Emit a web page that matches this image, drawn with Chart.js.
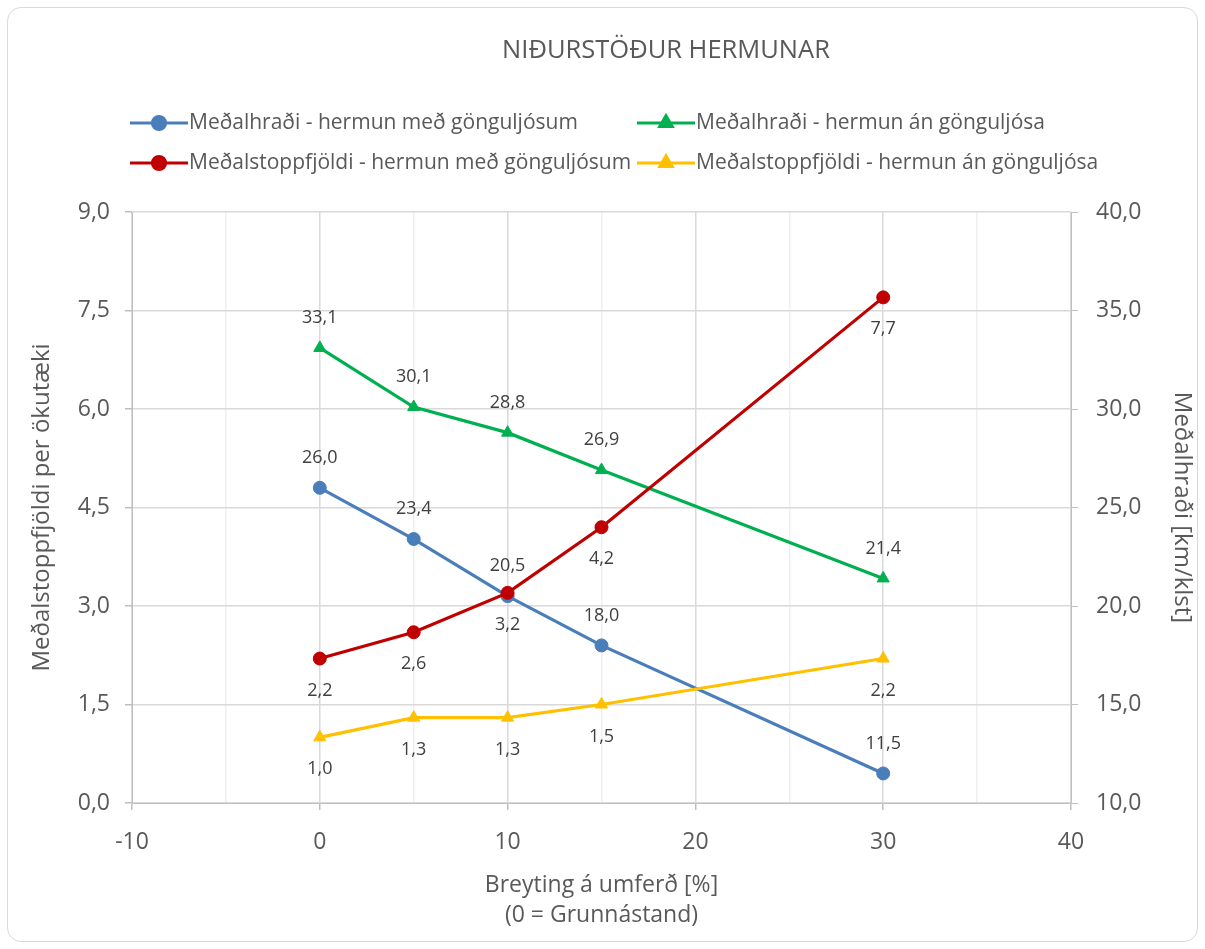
<!DOCTYPE html>
<html>
<head>
<meta charset="utf-8">
<script src="https://cdn.jsdelivr.net/npm/chart.js@4.4.0/dist/chart.umd.min.js"></script>
<style>
    body { margin: 0; background: #fff; }
    #wrap { position: relative; width: 1205px; height: 949px; }
    #frame { position: absolute; left: 7px; top: 7px; width: 1189px; height: 933px; border: 1px solid #d9d9d9; border-radius: 14px; }
    canvas { position: absolute; left: 0; top: 0; }
</style>
</head>
<body>
<div id="wrap">
    <div id="frame"></div>
    <canvas id="chart" width="1205" height="949"></canvas>
</div>
<script>
var xValues = [0, 5, 10, 15, 30];
var speedWithLights = [26.0, 23.4, 20.5, 18.0, 11.5];
var speedWithoutLights = [33.1, 30.1, 28.8, 26.9, 21.4];
var stopsWithLights = [2.2, 2.6, 3.2, 4.2, 7.7];
var stopsWithoutLights = [1.0, 1.3, 1.3, 1.5, 2.2];
var seriesNames = [
    'Meðalhraði - hermun með gönguljósum',
    'Meðalhraði - hermun án gönguljósa',
    'Meðalstoppfjöldi - hermun með gönguljósum',
    'Meðalstoppfjöldi - hermun án gönguljósa'
];
var chartTitle = 'NIĐURSTÖÐUR HERMUNAR';
var xTitle = ['Breyting á umferð [%]', '(0 = Grunnástand)'];
var leftTitle = 'Meðalstoppfjöldi per ökutæki';
var rightTitle = 'Meðalhraði [km/klst]';

var FONT = "'Open Sans', sans-serif";
var TEXT = '#595959';

function toPoints(values) {
    return xValues.map(function(x, i) { return { x: x, y: values[i] }; });
}

function formatNum(v) {
    return v.toFixed(1).replace('.', ',');
}

function makeSeries(label, values, color, style, axis, labelPos, order) {
    return {
        label: label,
        data: toPoints(values),
        borderColor: color,
        backgroundColor: color,
        borderWidth: 3.2,
        pointStyle: style,
        pointRadius: style === 'triangle' ? 7 : 6.5,
        pointBorderWidth: 1,
        yAxisID: axis,
        labelPos: labelPos,
        order: order,
        tension: 0
    };
}

// title, legend and point values drawn by hand
var decorPlugin = {
    id: 'decor',
    afterDatasetsDraw: function(chart) {
        var ctx = chart.ctx;
        ctx.save();
        ctx.font = '18px ' + FONT;
        ctx.fillStyle = '#404040';
        ctx.textAlign = 'center';
        ctx.textBaseline = 'middle';
        chart.data.datasets.forEach(function(ds, i) {
            var meta = chart.getDatasetMeta(i);
            meta.data.forEach(function(pt, j) {
                var dy = ds.labelPos === 'above' ? -30 : 32;
                ctx.fillText(formatNum(ds.data[j].y), pt.x, pt.y + dy);
            });
        });
        ctx.restore();
    },
    afterDraw: function(chart) {
        var ctx = chart.ctx;
        ctx.save();
        ctx.fillStyle = TEXT;
        ctx.textBaseline = 'middle';
        ctx.textAlign = 'center';
        ctx.font = '25.5px ' + FONT;
        ctx.fillText(chartTitle, 666, 51);

        var cols = [130, 637];
        var rows = [123, 163];
        ctx.font = '21px ' + FONT;
        ctx.textAlign = 'left';
        chart.data.datasets.forEach(function(ds, i) {
            var x = cols[i % 2];
            var y = rows[Math.floor(i / 2)];
            ctx.strokeStyle = ds.borderColor;
            ctx.lineWidth = 3.2;
            ctx.beginPath();
            ctx.moveTo(x, y);
            ctx.lineTo(x + 58, y);
            ctx.stroke();
            Chart.helpers.drawPoint(ctx, {
                pointStyle: ds.pointStyle,
                radius: ds.pointRadius,
                borderWidth: 1,
                rotation: 0
            }, x + 29, y);
            ctx.fillStyle = ds.backgroundColor;
            ctx.fill();
            ctx.fillStyle = TEXT;
            ctx.fillText(ds.label, x + 59, y);
        });
        ctx.restore();
    }
};

new Chart(document.getElementById('chart'), {
    type: 'line',
    data: {
        datasets: [
            makeSeries(seriesNames[0], speedWithLights, '#4a7ebb', 'circle', 'yRight', 'above', 4),
            makeSeries(seriesNames[1], speedWithoutLights, '#00b050', 'triangle', 'yRight', 'above', 3),
            makeSeries(seriesNames[2], stopsWithLights, '#c00000', 'circle', 'yLeft', 'below', 2),
            makeSeries(seriesNames[3], stopsWithoutLights, '#ffc000', 'triangle', 'yLeft', 'below', 1)
        ]
    },
    options: {
        responsive: false,
        animation: false,
        layout: { padding: { top: 212, left: 0, right: 0, bottom: 0 } },
        plugins: {
            legend: { display: false },
            title: { display: false },
            tooltip: { enabled: false }
        },
        scales: {
            x: {
                type: 'linear',
                min: -10,
                max: 40,
                afterFit: function(scale) { scale.height = 146; },
                border: { display: true, color: '#bfbfbf', width: 1 },
                grid: {
                    color: function(c) { return c.tick && c.tick.value % 10 === 0 ? '#d9d9d9' : '#efefef'; },
                    tickColor: function(c) { return c.tick && c.tick.value % 10 === 0 ? '#bfbfbf' : 'rgba(0,0,0,0)'; },
                    tickLength: 7,
                    lineWidth: 1.5
                },
                ticks: {
                    stepSize: 5,
                    autoSkip: false,
                    maxRotation: 0,
                    padding: 19,
                    color: TEXT,
                    font: { family: FONT, size: 23 },
                    callback: function(v) { return v % 10 === 0 ? String(v) : ''; }
                },
                title: {
                    display: true,
                    text: xTitle,
                    color: TEXT,
                    font: { family: FONT, size: 23, lineHeight: '30px' },
                    padding: { top: 0, bottom: 19 }
                }
            },
            yLeft: {
                position: 'left',
                min: 0,
                max: 9,
                afterFit: function(scale) { scale.width = 132; },
                border: { display: true, color: '#bfbfbf', width: 1 },
                grid: { color: '#d9d9d9', tickColor: '#bfbfbf', tickLength: 7, lineWidth: 1.5 },
                ticks: {
                    stepSize: 1.5,
                    padding: 15,
                    color: TEXT,
                    font: { family: FONT, size: 23 },
                    callback: function(v) { return formatNum(v); }
                },
                title: {
                    display: true,
                    text: leftTitle,
                    color: TEXT,
                    font: { family: FONT, size: 24, lineHeight: '24px' },
                    padding: { top: 30, bottom: 0 }
                }
            },
            yRight: {
                position: 'right',
                min: 10,
                max: 40,
                afterFit: function(scale) { scale.width = 134; },
                border: { display: true, color: '#bfbfbf', width: 1 },
                grid: { drawOnChartArea: false, tickColor: '#bfbfbf', tickLength: 7 },
                ticks: {
                    stepSize: 5,
                    padding: 18,
                    color: TEXT,
                    font: { family: FONT, size: 23 },
                    callback: function(v) { return formatNum(v); }
                },
                title: {
                    display: true,
                    text: rightTitle,
                    color: TEXT,
                    font: { family: FONT, size: 24, lineHeight: '24px' },
                    padding: { top: 11, bottom: 0 }
                }
            }
        }
    },
    plugins: [decorPlugin]
});
</script>
</body>
</html>
